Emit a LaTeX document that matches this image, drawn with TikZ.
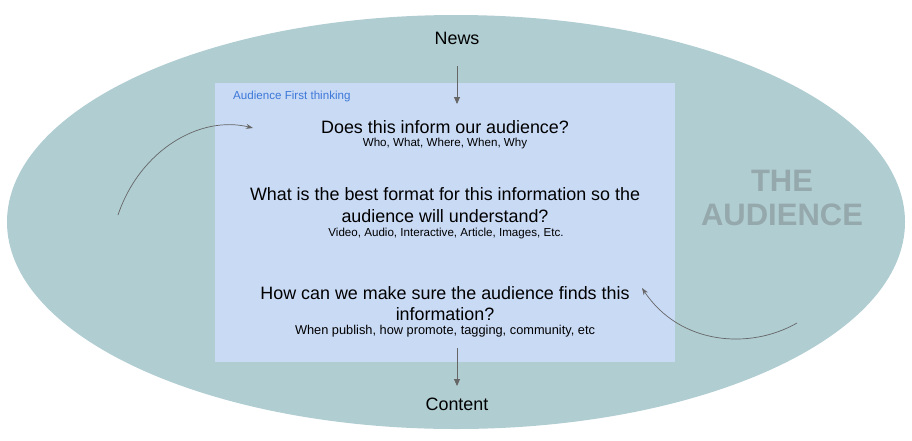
\documentclass[tikz,border=0pt]{standalone}
\usepackage{fontspec}
\setmainfont{Liberation Sans}
\usetikzlibrary{arrows.meta}
\definecolor{ellfill}{HTML}{B0CDD2}
\definecolor{boxfill}{HTML}{C9DAF5}
\definecolor{arrowgray}{HTML}{666666}
\definecolor{titleblue}{HTML}{3C78D8}
\definecolor{audgray}{HTML}{95A8AB}
\tikzset{
  big/.style={font=\fontsize{17.9}{21}\selectfont, inner sep=0pt, align=center},
  small/.style={font=\fontsize{11.6}{13}\selectfont, inner sep=0pt},
  conn/.style={draw=arrowgray, line width=0.9pt, -{Triangle[length=7pt,width=6pt]}},
  curve/.style={draw=arrowgray, line width=0.7pt, -{Stealth[length=7pt,width=5pt]}}
}
\begin{document}
\begin{tikzpicture}[x=1pt,y=-1pt]
\useasboundingbox (0,0) rectangle (912,440);
\fill[ellfill] (456,222) ellipse [x radius=449, y radius=207];
\fill[boxfill] (215,83) rectangle (675,362);
\node[big] (news) at (457,38) {News};
\node[big] (content) at (457,404) {Content};
\coordinate (n1) at (457,66);
\coordinate (n2) at (457,104);
\coordinate (c1) at (457,348);
\coordinate (c2) at (457,386);
\draw[conn] (n1) -- (n2);
\draw[conn] (c1) -- (c2);
\node[small, text=titleblue, anchor=west] (title) at (233,96) {Audience First thinking};
\node[big] (q1) at (445,127) {Does this inform our audience?};
\node[small] (s1) at (445,143) {Who, What, Where, When, Why};
\node[big] (q2a) at (445,194) {What is the best format for this information so the};
\node[big] (q2b) at (445,216) {audience will understand?};
\node[small] (s2) at (446,233) {Video, Audio, Interactive, Article, Images, Etc.};
\node[big] (q3a) at (445,293) {How can we make sure the audience finds this};
\node[big] (q3b) at (445,314) {information?};
\node[small, font=\fontsize{12.8}{15}\selectfont] (s3) at (445,331) {When publish, how promote, tagging, community, etc};
\node[font=\fontsize{31}{34}\selectfont\bfseries, text=audgray, align=center, inner sep=0pt] (aud) at (782,198) {THE\\AUDIENCE};
\coordinate (l1) at (118,215);
\coordinate (l2) at (253,128);
\coordinate (r1) at (797,323);
\coordinate (r2) at (642,288);
\draw[curve] (l1) .. controls (140,150) and (200,115) .. (l2);
\draw[curve] (r1) .. controls (750,350) and (680,345) .. (r2);
\end{tikzpicture}
\end{document}
